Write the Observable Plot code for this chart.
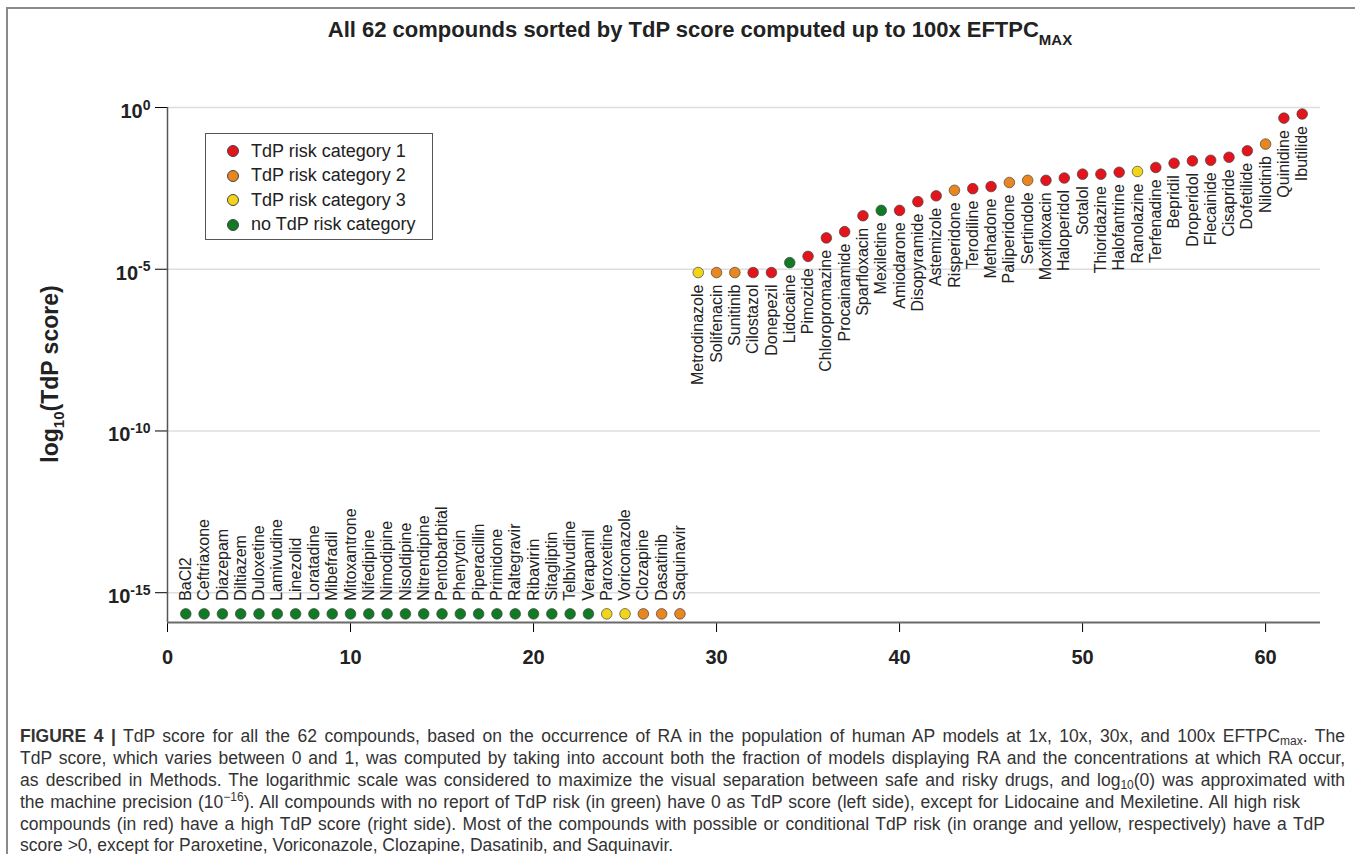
<!DOCTYPE html>
<html>
<head>
<meta charset="utf-8">
<script src="https://cdn.jsdelivr.net/npm/d3@7"></script>
<script src="https://cdn.jsdelivr.net/npm/@observablehq/plot@0.6"></script>
<style>
  html, body { margin: 0; padding: 0; background: #fff; }
  body { width: 1355px; height: 854px; position: relative; overflow: hidden; font-family: "Liberation Sans", Arial, Helvetica, sans-serif; }
  #frame { position: absolute; left: 6px; top: 7px; width: 1360px; height: 860px; border-left: 2px solid #8a8a8a; border-top: 2px solid #8a8a8a; }
  #chart { position: absolute; left: 0; top: 0; }
  #title { position: absolute; top: 17px; left: 0; width: 1400px; text-align: center; font-weight: bold; font-size: 22px; color: #222; }
  #title sub { font-size: 15px; vertical-align: -8px; }
  #ylabel { position: absolute; left: 52px; top: 374px; transform: translate(-50%, -50%) rotate(-90deg); white-space: nowrap; font-weight: bold; font-size: 23px; color: #222; }
  #ylabel sub { font-size: 15px; vertical-align: -6px; }
  #legend { position: absolute; left: 205px; top: 133px; width: 226px; height: 105px; border: 1.5px solid #555; background: #fff; }
  .lg { position: absolute; left: 0; height: 24px; display: flex; align-items: center; font-size: 18px; color: #222; white-space: nowrap; }
  .lg .d { width: 10px; height: 10px; border-radius: 50%; border: 0.8px solid #444; margin-left: 21px; margin-right: 12px; }
  #caption { position: absolute; left: 20px; top: 726px; font-size: 17.5px; color: #333; }
  #caption div { white-space: nowrap; height: 21.9px; line-height: 21.9px; overflow: visible; }
  #caption div.j { text-align: justify; text-align-last: justify; white-space: normal; }
  #caption sub { font-size: 12px; vertical-align: -3px; line-height: 0; }
  #caption sup { font-size: 12px; vertical-align: 7px; line-height: 0; }
  g[aria-label^="x-axis"] text, g[aria-label^="y-axis"] text { font-weight: bold; font-size: 20px; fill: #222; }
</style>
</head>
<body>
<div id="frame"></div>
<div id="chart"></div>
<div id="title">All 62 compounds sorted by TdP score computed up to 100x EFTPC<sub>MAX</sub></div>
<div id="ylabel">log<sub>10</sub>(TdP score)</div>
<div id="legend"></div>
<div id="caption"></div>
<script>
// ---- data ----
const compounds = [
  "BaCl2","Ceftriaxone","Diazepam","Diltiazem","Duloxetine","Lamivudine","Linezolid","Loratadine",
  "Mibefradil","Mitoxantrone","Nifedipine","Nimodipine","Nisoldipine","Nitrendipine","Pentobarbital",
  "Phenytoin","Piperacillin","Primidone","Raltegravir","Ribavirin","Sitagliptin","Telbivudine","Verapamil",
  "Paroxetine","Voriconazole","Clozapine","Dasatinib","Saquinavir",
  "Metrodinazole","Solifenacin","Sunitinib","Cilostazol","Donepezil","Lidocaine","Pimozide",
  "Chloropromazine","Procainamide","Sparfloxacin","Mexiletine","Amiodarone","Disopyramide","Astemizole",
  "Risperidone","Terodiline","Methadone","Paliperidone","Sertindole","Moxifloxacin","Haloperidol",
  "Sotalol","Thioridazine","Halofantrine","Ranolazine","Terfenadine","Bepridil","Droperidol",
  "Flecainide","Cisapride","Dofetilide","Nilotinib","Quinidine","Ibutilide"
];
// risk category: 1, 2, 3, 0 = no TdP risk
const riskCategory = [
  0,0,0,0,0,0,0,0,0,0,0,0,0,0,0,0,0,0,0,0,0,0,0,
  3,3,2,2,2,
  3,2,2,1,1,0,1,
  1,1,1,0,1,1,1,
  2,1,1,2,2,1,1,
  1,1,1,3,1,1,1,
  1,1,1,2,1,1
];
const eps = 2.22e-16; // log10(0) approximated with machine precision
const tdpScore = [
  eps,eps,eps,eps,eps,eps,eps,eps,eps,eps,eps,eps,eps,eps,eps,eps,eps,eps,eps,eps,eps,eps,eps,
  eps,eps,eps,eps,eps,
  7.9e-6,7.9e-6,7.9e-6,7.9e-6,7.9e-6,1.6e-5,2.5e-5,
  9.3e-5,1.45e-4,4.5e-4,6.6e-4,6.6e-4,1.23e-3,1.86e-3,
  2.75e-3,3.1e-3,3.6e-3,4.8e-3,5.6e-3,5.6e-3,6.6e-3,
  8.7e-3,8.7e-3,1.0e-2,1.05e-2,1.4e-2,1.9e-2,2.24e-2,
  2.34e-2,2.9e-2,4.6e-2,7.4e-2,0.47,0.63
];
const categoryNames = ["TdP risk category 1","TdP risk category 2","TdP risk category 3","no TdP risk category"];
const categoryCodes = [1, 2, 3, 0];
const categoryColors = ["#e3141b", "#e8861f", "#f2d51a", "#107a25"];
const xTicks = [0, 10, 20, 30, 40, 50, 60];
const yTicks = [1e-15, 1e-10, 1e-5, 1];
const xDomain = [0, 63];
const yDomain = [1.2e-16, 1];

const captionLines = [
  "<b>FIGURE 4 |</b> TdP score for all the 62 compounds, based on the occurrence of RA in the population of human AP models at 1x, 10x, 30x, and 100x EFTPC<sub>max</sub>. The",
  "TdP score, which varies between 0 and 1, was computed by taking into account both the fraction of models displaying RA and the concentrations at which RA occur,",
  "as described in Methods. The logarithmic scale was considered to maximize the visual separation between safe and risky drugs, and log<sub>10</sub>(0) was approximated with",
  "the machine precision (10<sup>\u221216</sup>). All compounds with no report of TdP risk (in green) have 0 as TdP score (left side), except for Lidocaine and Mexiletine. All high risk",
  "compounds (in red) have a high TdP score (right side). Most of the compounds with possible or conditional TdP risk (in orange and yellow, respectively) have a TdP",
  "score &gt;0, except for Paroxetine, Voriconazole, Clozapine, Dasatinib, and Saquinavir."
];
const captionWidths = [1325, 1325, 1325, 1280, 1305, null];

// ---- build ----
const data = compounds.map((name, i) => ({
  index: i + 1, name, cat: riskCategory[i], score: tdpScore[i]
}));
const colorOf = c => categoryColors[categoryCodes.indexOf(c)];
const zeroData = data.filter(d => d.score <= eps);
const posData = data.filter(d => d.score > eps);

const chart = Plot.plot({
  width: 1355,
  height: 705,
  marginLeft: 167,
  marginRight: 35,
  marginTop: 107,
  marginBottom: 83,
  style: { fontFamily: "'Liberation Sans', Arial, Helvetica, sans-serif", background: "transparent", overflow: "visible" },
  x: { domain: xDomain, ticks: xTicks, tickSize: 10, tickPadding: 17, label: null, tickFormat: d => String(d) },
  y: { type: "log", domain: yDomain, ticks: yTicks, tickSize: 12, tickPadding: 5, label: null,
       tickFormat: d => "10^" + Math.round(Math.log10(d)) },
  marks: [
    Plot.ruleY(yTicks, { stroke: "#dedede", strokeWidth: 1.5 }),
    Plot.ruleX([xDomain[0]], { y1: yDomain[0], y2: yDomain[1], stroke: "#555", strokeWidth: 1.5 }),
    Plot.ruleY([yDomain[0]], { x1: xDomain[0], x2: xDomain[1], stroke: "#6a6a6a", strokeWidth: 2 }),
    Plot.text(zeroData, { x: "index", y: "score", text: "name", rotate: -90, textAnchor: "start",
      lineAnchor: "middle", dy: -13, fontSize: 16, fill: "#222" }),
    Plot.text(posData, { x: "index", y: "score", text: "name", rotate: -90, textAnchor: "end",
      lineAnchor: "middle", dy: 12, fontSize: 16, fill: "#222" }),
    Plot.dot(data, { x: "index", y: "score", r: 5.3, fill: d => colorOf(d.cat), stroke: "#444", strokeWidth: 0.7 })
  ]
});
document.getElementById("chart").appendChild(chart);

// superscript exponents on y tick labels
chart.querySelectorAll('g[aria-label^="y-axis"] text').forEach(t => {
  const s = t.textContent;
  if (s.indexOf("^") >= 0) {
    const [base, exp] = s.split("^");
    t.textContent = "";
    const tb = document.createElementNS("http://www.w3.org/2000/svg", "tspan");
    tb.textContent = base;
    tb.setAttribute("dy", "0.2em");
    const te = document.createElementNS("http://www.w3.org/2000/svg", "tspan");
    te.textContent = exp;
    te.setAttribute("dy", "-0.6em");
    te.setAttribute("font-size", "14px");
    t.appendChild(tb); t.appendChild(te);
  }
});

// legend
const legend = document.getElementById("legend");
categoryNames.forEach((n, i) => {
  const row = document.createElement("div");
  row.className = "lg";
  row.style.top = (5 + i * 24.5) + "px";
  row.innerHTML = `<span class="d" style="background:${categoryColors[i]}"></span>${n}`;
  legend.appendChild(row);
});

// caption
const cap = document.getElementById("caption");
captionLines.forEach((l, i) => {
  const div = document.createElement("div");
  div.innerHTML = l;
  if (captionWidths[i]) { div.className = "j"; div.style.width = captionWidths[i] + "px"; }
  cap.appendChild(div);
});
</script>
</body>
</html>
